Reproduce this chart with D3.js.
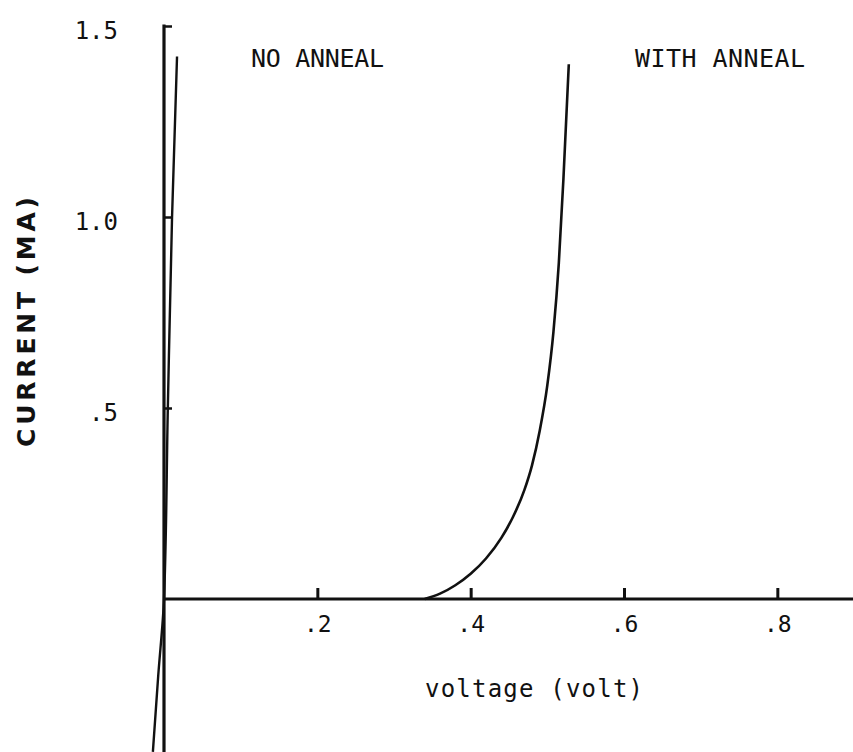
<!DOCTYPE html>
<html>
<head>
<meta charset="utf-8">
<script src="https://cdn.jsdelivr.net/npm/d3@7"></script>
<style>
  html, body { margin: 0; padding: 0; background: #fff; }
  svg { display: block; }
  .mono { font-family: "DejaVu Sans Mono", "Liberation Mono", monospace; fill: #111; }
</style>
</head>
<body>
<svg id="chart" width="853" height="752"></svg>
<script>
// Current-voltage curves of the contact, before and after annealing.
// Voltage in volts, current in mA.
const noAnnealVoltage = [-0.0145, -0.0075, 0.0, 0.005, 0.0105, 0.0170];
const noAnnealCurrent = [-0.40, -0.20, 0.0, 0.50, 1.00, 1.42];

const annealVoltage = [0.340, 0.360, 0.380, 0.400, 0.420, 0.440, 0.455, 0.470, 0.480, 0.490, 0.500, 0.508, 0.515, 0.521, 0.528];
const annealCurrent = [0.000, 0.014, 0.036, 0.066, 0.106, 0.160, 0.214, 0.285, 0.350, 0.440, 0.560, 0.700, 0.880, 1.100, 1.400];

const xTickValues = [0.2, 0.4, 0.6, 0.8];
const xTickLabels = [".2", ".4", ".6", ".8"];
const yTickValues = [0.5, 1.0, 1.5];
const yTickLabels = [".5", "1.0", "1.5"];

const seriesLabels = ["NO ANNEAL", "WITH ANNEAL"];
const xTitle = "voltage (volt)";
const yTitle = "CURRENT (MA)";

const svg = d3.select("#chart");

const x = d3.scaleLinear().domain([0, 0.9]).range([164, 854]);
const y = d3.scaleLinear().domain([0, 1.5]).range([599, 26]);

const ink = "#111";

// x axis: ticks pointing up, labels below
const xAxis = d3.axisBottom(x)
  .tickValues(xTickValues)
  .tickFormat((d, i) => xTickLabels[i])
  .tickSizeInner(-11)
  .tickSizeOuter(0)
  .tickPadding(17);

const gx = svg.append("g")
  .attr("transform", `translate(0,${y(0)})`)
  .call(xAxis);
gx.select(".domain").remove();
gx.selectAll(".tick line").attr("stroke", ink).attr("stroke-width", 3);
gx.selectAll(".tick text")
  .attr("class", "mono")
  .style("font-size", "23px")
  .attr("fill", ink);

// y axis: ticks pointing right, labels on the left
const yAxis = d3.axisLeft(y)
  .tickValues(yTickValues)
  .tickFormat((d, i) => yTickLabels[i])
  .tickSizeInner(-8)
  .tickSizeOuter(0)
  .tickPadding(46);

const gy = svg.append("g")
  .attr("transform", `translate(${x(0)},0)`)
  .call(yAxis);
gy.select(".domain").remove();
gy.selectAll(".tick line").attr("stroke", ink).attr("stroke-width", 2.5);
gy.selectAll(".tick text")
  .attr("class", "mono")
  .attr("dy", "0.5em")
  .style("font-size", "24px")
  .attr("fill", ink);

// axis lines: the current axis runs past zero down to the negative branch
svg.append("line")
  .attr("x1", x(0)).attr("x2", x(0.9))
  .attr("y1", y(0)).attr("y2", y(0))
  .attr("stroke", ink).attr("stroke-width", 3);

svg.append("line")
  .attr("x1", x(0)).attr("x2", x(0))
  .attr("y1", y(1.5) - 1.5).attr("y2", y(-0.42))
  .attr("stroke", ink).attr("stroke-width", 3.2);

// curves
const noAnneal = noAnnealVoltage.map((v, i) => [v, noAnnealCurrent[i]]);
const anneal = annealVoltage.map((v, i) => [v, annealCurrent[i]]);

svg.append("path")
  .datum(noAnneal)
  .attr("fill", "none")
  .attr("stroke", ink)
  .attr("stroke-width", 2.4)
  .attr("d", d3.line().x(d => x(d[0])).y(d => y(d[1])).curve(d3.curveMonotoneY));

svg.append("path")
  .datum(anneal)
  .attr("fill", "none")
  .attr("stroke", ink)
  .attr("stroke-width", 2.6)
  .attr("d", d3.line().x(d => x(d[0])).y(d => y(d[1])).curve(d3.curveMonotoneX));

// series labels
svg.append("text")
  .attr("class", "mono")
  .attr("x", 251).attr("y", 67)
  .style("font-size", "25px")
  .attr("textLength", 133).attr("lengthAdjust", "spacing")
  .text(seriesLabels[0]);

svg.append("text")
  .attr("class", "mono")
  .attr("x", 635).attr("y", 67)
  .style("font-size", "25px")
  .attr("textLength", 170).attr("lengthAdjust", "spacing")
  .text(seriesLabels[1]);

// axis titles
svg.append("text")
  .attr("class", "mono")
  .attr("x", 425).attr("y", 697)
  .style("font-size", "24px")
  .attr("textLength", 218).attr("lengthAdjust", "spacing")
  .text(xTitle);

svg.append("text")
  .attr("transform", "translate(35,447) rotate(-90)")
  .attr("x", 0).attr("y", 0)
  .style("font-family", "'DejaVu Sans', Verdana, sans-serif")
  .style("font-weight", "bold")
  .style("font-size", "25px")
  .attr("fill", ink)
  .attr("textLength", 250).attr("lengthAdjust", "spacing")
  .text(yTitle);
</script>
</body>
</html>
